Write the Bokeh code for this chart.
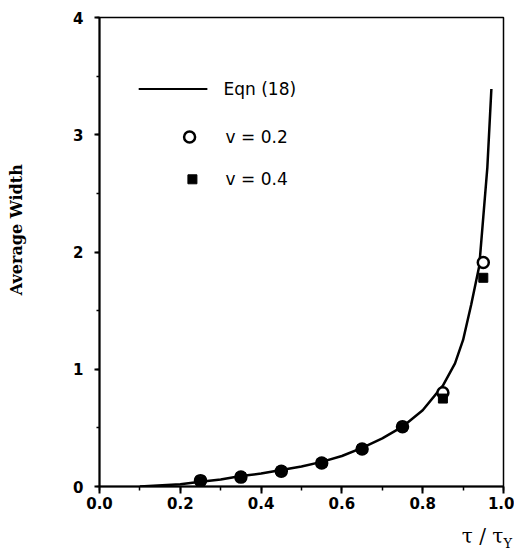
from bokeh.plotting import figure
from bokeh.layouts import column
from bokeh.models import Label, SingleIntervalTicker, Range1d, ColumnDataSource, Div
from bokeh.embed import file_html
from bokeh.resources import INLINE

# ---- data ----
tau_ratio = [0.25, 0.35, 0.45, 0.55, 0.65, 0.75, 0.85, 0.95]
width_nu02 = [0.05, 0.08, 0.13, 0.20, 0.32, 0.51, 0.80, 1.91]
width_nu04 = [0.05, 0.08, 0.13, 0.20, 0.32, 0.51, 0.75, 1.78]

eqn_x = [0.10, 0.20, 0.25, 0.30, 0.35, 0.40, 0.45, 0.50, 0.55, 0.60, 0.65,
         0.70, 0.75, 0.80, 0.85, 0.88, 0.90, 0.92, 0.94, 0.95, 0.96, 0.97]
eqn_y = [0.00, 0.02, 0.04, 0.06, 0.09, 0.11, 0.14, 0.17, 0.21, 0.26, 0.33,
         0.41, 0.51, 0.65, 0.86, 1.05, 1.25, 1.55, 1.88, 2.30, 2.72, 3.39]

x_tick_labels = {0: "0.0", 0.2: "0.2", 0.4: "0.4", 0.6: "0.6", 0.8: "0.8", 1: "1.0"}
y_tick_labels = {0: "0", 1: "1", 2: "2", 3: "3", 4: "4"}

legend_labels = ["Eqn (18)", "v = 0.2", "v = 0.4"]
y_title = "Average Width"
x_title = "τ / τ"
x_title_sub = "Y"

p = figure(width=514, height=520, x_range=Range1d(0, 1), y_range=Range1d(0, 4),
           output_backend="svg", toolbar_location=None,
           min_border_left=99, min_border_right=11, min_border_top=17, min_border_bottom=34)
p.grid.visible = False
p.outline_line_color = "black"
p.outline_line_width = 1.5
p.background_fill_color = "white"
p.border_fill_color = "white"

tick_font = "DejaVu Sans"
for ax in (p.xaxis[0], p.yaxis[0]):
    ax.axis_line_width = 2
    ax.axis_line_color = "black"
    ax.major_tick_line_width = 2
    ax.minor_tick_line_width = 1.5
    ax.major_tick_in = 0
    ax.minor_tick_in = 0
    ax.major_label_text_font = tick_font
    ax.major_label_text_font_style = "bold"
    ax.major_label_text_font_size = "15px"
    ax.major_label_text_color = "black"

p.xaxis.ticker = SingleIntervalTicker(interval=0.2, num_minor_ticks=2)
p.xaxis.major_label_overrides = x_tick_labels
p.xaxis.major_tick_out = 7
p.xaxis.minor_tick_out = 4
p.xaxis.major_label_standoff = 3

p.yaxis.ticker = SingleIntervalTicker(interval=1, num_minor_ticks=2)
p.yaxis.major_label_overrides = y_tick_labels
p.yaxis.major_tick_out = 5
p.yaxis.minor_tick_out = 3
p.yaxis.major_label_standoff = 11

# y title (leading no-break spaces shift it up along the axis)
p.yaxis.axis_label = "\u00a0" * 8 + y_title
p.yaxis.axis_label_standoff = 44
p.yaxis.axis_label_text_font = "DejaVu Serif"
p.yaxis.axis_label_text_font_style = "bold"
p.yaxis.axis_label_text_font_size = "16px"
p.yaxis.axis_label_text_color = "black"

# curve
p.line(eqn_x, eqn_y, line_color="black", line_width=2.5)

src = ColumnDataSource(dict(x=tau_ratio, y02=width_nu02, y04=width_nu04))
p.scatter("x", "y02", source=src, marker="circle", size=11, fill_color="white",
          line_color="black", line_width=2.5)
p.scatter("x", "y04", source=src, marker="square", size=9, fill_color="black",
          line_color="black", line_width=1)

# legend (manual)
p.line([0.097, 0.267], [3.39, 3.39], line_color="black", line_width=1.8)
p.scatter([0.223], [2.98], marker="circle", size=11, fill_color="white",
          line_color="black", line_width=2.5)
p.scatter([0.23], [2.62], marker="square", size=9, fill_color="black",
          line_color="black", line_width=1)
for (lx, ly), txt in zip([(0.307, 3.39), (0.312, 2.98), (0.312, 2.62)], legend_labels):
    p.add_layout(Label(x=lx, y=ly, text=txt, text_font="DejaVu Sans", text_font_size="17px",
                       text_align="left", text_baseline="middle", text_color="black"))

# x title with subscript
div = Div(text=('<span style="font-family:\'DejaVu Serif\';font-size:20px;color:black">'
                + x_title + '<sub style="font-size:13px">' + x_title_sub + '</sub></span>'),
          width=514, height=30, margin=0,
          styles={"text-align": "right", "padding-right": "2px", "padding-top": "2px",
                  "box-sizing": "border-box", "background-color": "white"})

layout = column(p, div, spacing=0)
open("out.html", "w").write(file_html(layout, INLINE))
